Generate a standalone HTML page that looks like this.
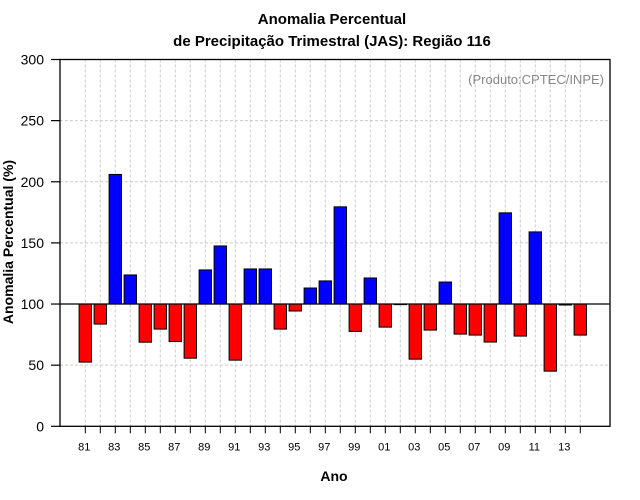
<!DOCTYPE html>
<html><head><meta charset="utf-8">
<style>
html,body{margin:0;padding:0;background:#fff;}
svg{display:block;font-family:"Liberation Sans",Arial,sans-serif;}
</style></head>
<body>
<svg id="chart" width="640" height="500" viewBox="0 0 640 500" xmlns="http://www.w3.org/2000/svg">
<rect x="0" y="0" width="640" height="500" fill="#fff"/>
<text x="332" y="24" text-anchor="middle" font-size="15" font-weight="bold">Anomalia Percentual</text>
<text x="332" y="46" text-anchor="middle" font-size="15" font-weight="bold">de Precipitação Trimestral (JAS): Região 116</text>
<g id="grid"></g>
<g id="bars"></g>
<g id="axes"></g>
<text x="604" y="84" text-anchor="end" font-size="13" fill="#888">(Produto:CPTEC/INPE)</text>
<text x="334" y="481" text-anchor="middle" font-size="14" font-weight="bold">Ano</text>
<text transform="translate(13,242) rotate(-90)" text-anchor="middle" font-size="14" font-weight="bold">Anomalia Percentual (%)</text>
</svg>
<script>
const years = [81,82,83,84,85,86,87,88,89,90,91,92,93,94,95,96,97,98,99,0,1,2,3,4,5,6,7,8,9,10,11,12,13,14];
const values = [52.5,83.6,206,123.8,68.8,79.5,69.3,55.7,127.9,147.5,54.1,128.7,128.7,79.5,94.3,113.1,118.9,179.5,77.6,121.3,81.1,100,54.9,78.7,118,75.4,74.6,68.9,174.6,73.8,159,45.1,99.2,74.6];
const yTicks = [0,50,100,150,200,250,300];
const xLabelYears = [81,83,85,87,89,91,93,95,97,99,1,3,5,7,9,11,13];

const NS = "http://www.w3.org/2000/svg";
const L = 60, R = 610, T = 59.5, B = 426.3;
const yMin = 0, yMax = 300, baseline = 100;
function yS(v){ return B - (v - yMin) / (yMax - yMin) * (B - T); }
function xS(i){ return 85.3 + i * 15; }
function mk(tag, attrs, parent){
  const e = document.createElementNS(NS, tag);
  for (const k in attrs) e.setAttribute(k, attrs[k]);
  parent.appendChild(e);
  return e;
}
const grid = document.getElementById('grid');
const bars = document.getElementById('bars');
const axes = document.getElementById('axes');

yTicks.forEach(function(t){
  if (t === yMin || t === yMax) return;
  const g = mk('line', {x1:L, x2:R, y1:yS(t), y2:yS(t), stroke:'#ccc', 'stroke-dasharray':'3,2'}, grid);
  
  
});
years.forEach(function(y, i){
  const g = mk('line', {x1:xS(i), x2:xS(i), y1:T, y2:B, stroke:'#ccc', 'stroke-dasharray':'3,2'}, grid);
  
  
});

values.forEach(function(v, i){
  const y0 = yS(baseline), y1 = yS(v);
  const top = Math.min(y0, y1), h = Math.abs(y1 - y0);
  const r = mk('rect', {x:xS(i) - 6.2, y:top, width:12.4, height:Math.max(h, 0.6), fill: v >= baseline ? '#0000ff' : '#ff0000', stroke:'#000', 'stroke-width':1}, bars);
  
  
});

const bl = mk('line', {x1:L, x2:R, y1:yS(baseline), y2:yS(baseline), stroke:'#000', 'stroke-width':1.2}, axes);



const frame = mk('rect', {x:L, y:T, width:R - L, height:B - T, fill:'none', stroke:'#000', 'stroke-width':1.3}, axes);



yTicks.forEach(function(t){
  const tk = mk('line', {x1:L - 9, x2:L, y1:yS(t), y2:yS(t), stroke:'#000', 'stroke-width':1.2}, axes);
  
  
  const tx = mk('text', {x:L - 16, y:yS(t) + 5, 'text-anchor':'end', 'font-size':14}, axes);
  tx.textContent = t;
  
  
});
years.forEach(function(y, i){
  const tk = mk('line', {x1:xS(i), x2:xS(i), y1:B, y2:B + 7, stroke:'#000', 'stroke-width':1}, axes);
  
  
  if (xLabelYears.indexOf(y) >= 0) {
    const tx = mk('text', {x:xS(i) - 1, y:B + 24, 'text-anchor':'middle', 'font-size':11}, axes);
    tx.textContent = String(y).padStart(2, '0');
    
    
  }
});
</script>
</body></html>
